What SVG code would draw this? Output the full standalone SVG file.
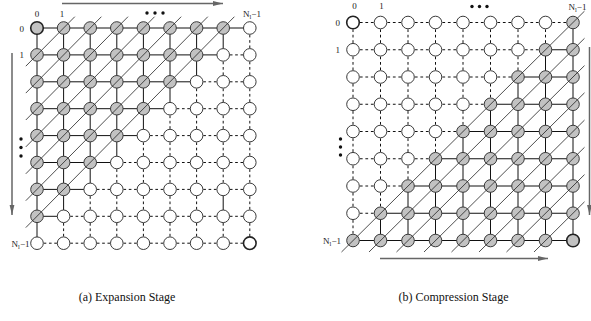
<svg xmlns="http://www.w3.org/2000/svg" width="591" height="321" viewBox="0 0 591 321">
<style>
.bg{fill:#fff}
circle{stroke:#3a3a3a;stroke-width:1}
.g{fill:#c2c2c2}
.w{fill:#fff}
.t{stroke:#222;stroke-width:1.6}
.s{fill:none;stroke:#111;stroke-width:1}
.dlh{fill:none;stroke:#111;stroke-width:1;stroke-dasharray:2.66 2.66;stroke-dashoffset:3.99}
.dlv{fill:none;stroke:#111;stroke-width:1;stroke-dasharray:2.69 2.69;stroke-dashoffset:4.035}
.drh{fill:none;stroke:#111;stroke-width:1;stroke-dasharray:2.75 2.75;stroke-dashoffset:4.125}
.drv{fill:none;stroke:#111;stroke-width:1;stroke-dasharray:2.725 2.725;stroke-dashoffset:4.0875}
.dg{stroke:#222;stroke-width:0.8;fill:none}
.ar{stroke:#666;stroke-width:1.5;fill:none;marker-end:url(#ah)}
.lb{font-family:"Liberation Serif","Times New Roman",serif;font-size:9px;fill:#222}
.cap{font-family:"Liberation Serif","Times New Roman",serif;font-size:12px;fill:#111;text-anchor:middle}
.dot{fill:#111}
</style>
<defs>
<marker id="ah" viewBox="0 0 10 6" refX="10" refY="3" markerWidth="10" markerHeight="6" markerUnits="userSpaceOnUse" orient="auto">
<path d="M0,0.6 L10,3 L0,5.4 Z" fill="#666"/>
</marker>
</defs>
<rect class="bg" x="0" y="0" width="591" height="321"/>

<g id="connectors">
<!-- left grid solid horizontals -->
<path class="s" d="M37 28H249.8"/>
<path class="s" d="M37 54.9H223.2"/>
<path class="s" d="M37 81.8H196.6"/>
<path class="s" d="M37 108.7H170"/>
<path class="s" d="M37 135.6H143.4"/>
<path class="s" d="M37 162.5H116.8"/>
<path class="s" d="M37 189.4H90.2"/>
<path class="s" d="M37 216.3H63.6"/>
<!-- left grid dashed horizontals -->
<path class="dlh" d="M223.2 54.9H249.8"/>
<path class="dlh" d="M196.6 81.8H249.8"/>
<path class="dlh" d="M170 108.7H249.8"/>
<path class="dlh" d="M143.4 135.6H249.8"/>
<path class="dlh" d="M116.8 162.5H249.8"/>
<path class="dlh" d="M90.2 189.4H249.8"/>
<path class="dlh" d="M63.6 216.3H249.8"/>
<path class="dlh" d="M37 243.2H249.8"/>
<!-- left grid solid verticals -->
<path class="s" d="M37 28V243.2"/>
<path class="s" d="M63.6 28V216.3"/>
<path class="s" d="M90.2 28V189.4"/>
<path class="s" d="M116.8 28V162.5"/>
<path class="s" d="M143.4 28V135.6"/>
<path class="s" d="M170 28V108.7"/>
<path class="s" d="M196.6 28V81.8"/>
<path class="s" d="M223.2 28V54.9"/>
<path class="s" d="M223.2 189.4V216.3"/>
<!-- left grid dashed verticals -->
<path class="dlv" d="M63.6 216.3V243.2"/>
<path class="dlv" d="M90.2 189.4V243.2"/>
<path class="dlv" d="M116.8 162.5V243.2"/>
<path class="dlv" d="M143.4 135.6V243.2"/>
<path class="dlv" d="M170 108.7V243.2"/>
<path class="dlv" d="M196.6 81.8V243.2"/>
<path class="dlv" d="M223.2 54.9V189.4"/>
<path class="dlv" d="M223.2 216.3V243.2"/>
<path class="dlv" d="M249.8 28V243.2"/>
<!-- right grid solid horizontals -->
<path class="s" d="M545.5 49.75H573"/>
<path class="s" d="M518 77H573"/>
<path class="s" d="M490.5 104.25H573"/>
<path class="s" d="M463 131.5H573"/>
<path class="s" d="M435.5 158.75H573"/>
<path class="s" d="M408 186H573"/>
<path class="s" d="M380.5 213.25H573"/>
<path class="s" d="M353 240.5H573"/>
<!-- right grid dashed horizontals -->
<path class="drh" d="M353 22.5H573"/>
<path class="drh" d="M353 49.75H545.5"/>
<path class="drh" d="M353 77H518"/>
<path class="drh" d="M353 104.25H490.5"/>
<path class="drh" d="M353 131.5H463"/>
<path class="drh" d="M353 158.75H435.5"/>
<path class="drh" d="M353 186H408"/>
<path class="drh" d="M353 213.25H380.5"/>
<!-- right grid solid verticals -->
<path class="s" d="M380.5 213.25V240.5"/>
<path class="s" d="M408 186V240.5"/>
<path class="s" d="M435.5 158.75V240.5"/>
<path class="s" d="M463 131.5V240.5"/>
<path class="s" d="M490.5 104.25V240.5"/>
<path class="s" d="M518 77V240.5"/>
<path class="s" d="M545.5 49.75V240.5"/>
<path class="s" d="M573 22.5V240.5"/>
<!-- right grid dashed verticals -->
<path class="drv" d="M353 22.5V240.5"/>
<path class="drv" d="M380.5 22.5V213.25"/>
<path class="drv" d="M408 22.5V186"/>
<path class="drv" d="M435.5 22.5V158.75"/>
<path class="drv" d="M463 22.5V131.5"/>
<path class="drv" d="M490.5 22.5V104.25"/>
<path class="drv" d="M518 22.5V77"/>
<path class="drv" d="M545.5 22.5V49.75"/>
<!-- direction arrows -->
<path class="ar" d="M62 3.5H223"/>
<path class="ar" d="M12 53V215"/>
<path class="ar" d="M380 258.5H548"/>
<path class="ar" d="M589.5 47V215"/>
</g>

<g id="expansion-nodes">
<g id="a0-0"><circle class="g t" cx="37" cy="28" r="6.3"/></g>
<g id="a0-1"><circle class="g" cx="63.6" cy="28" r="6.3"/></g>
<g id="a0-2"><circle class="g" cx="90.2" cy="28" r="6.3"/></g>
<g id="a0-3"><circle class="g" cx="116.8" cy="28" r="6.3"/></g>
<g id="a0-4"><circle class="g" cx="143.4" cy="28" r="6.3"/></g>
<g id="a0-5"><circle class="g" cx="170" cy="28" r="6.3"/></g>
<g id="a0-6"><circle class="g" cx="196.6" cy="28" r="6.3"/></g>
<g id="a0-7"><circle class="g" cx="223.2" cy="28" r="6.3"/></g>
<g id="a0-8"><circle class="w" cx="249.8" cy="28" r="6.3"/></g>

<g id="a1-0"><circle class="g" cx="37" cy="54.9" r="6.3"/></g>
<g id="a1-1"><circle class="g" cx="63.6" cy="54.9" r="6.3"/></g>
<g id="a1-2"><circle class="g" cx="90.2" cy="54.9" r="6.3"/></g>
<g id="a1-3"><circle class="g" cx="116.8" cy="54.9" r="6.3"/></g>
<g id="a1-4"><circle class="g" cx="143.4" cy="54.9" r="6.3"/></g>
<g id="a1-5"><circle class="g" cx="170" cy="54.9" r="6.3"/></g>
<g id="a1-6"><circle class="g" cx="196.6" cy="54.9" r="6.3"/></g>
<g id="a1-7"><circle class="w" cx="223.2" cy="54.9" r="6.3"/></g>
<g id="a1-8"><circle class="w" cx="249.8" cy="54.9" r="6.3"/></g>

<g id="a2-0"><circle class="g" cx="37" cy="81.8" r="6.3"/></g>
<g id="a2-1"><circle class="g" cx="63.6" cy="81.8" r="6.3"/></g>
<g id="a2-2"><circle class="g" cx="90.2" cy="81.8" r="6.3"/></g>
<g id="a2-3"><circle class="g" cx="116.8" cy="81.8" r="6.3"/></g>
<g id="a2-4"><circle class="g" cx="143.4" cy="81.8" r="6.3"/></g>
<g id="a2-5"><circle class="g" cx="170" cy="81.8" r="6.3"/></g>
<g id="a2-6"><circle class="w" cx="196.6" cy="81.8" r="6.3"/></g>
<g id="a2-7"><circle class="w" cx="223.2" cy="81.8" r="6.3"/></g>
<g id="a2-8"><circle class="w" cx="249.8" cy="81.8" r="6.3"/></g>

<g id="a3-0"><circle class="g" cx="37" cy="108.7" r="6.3"/></g>
<g id="a3-1"><circle class="g" cx="63.6" cy="108.7" r="6.3"/></g>
<g id="a3-2"><circle class="g" cx="90.2" cy="108.7" r="6.3"/></g>
<g id="a3-3"><circle class="g" cx="116.8" cy="108.7" r="6.3"/></g>
<g id="a3-4"><circle class="g" cx="143.4" cy="108.7" r="6.3"/></g>
<g id="a3-5"><circle class="w" cx="170" cy="108.7" r="6.3"/></g>
<g id="a3-6"><circle class="w" cx="196.6" cy="108.7" r="6.3"/></g>
<g id="a3-7"><circle class="w" cx="223.2" cy="108.7" r="6.3"/></g>
<g id="a3-8"><circle class="w" cx="249.8" cy="108.7" r="6.3"/></g>

<g id="a4-0"><circle class="g" cx="37" cy="135.6" r="6.3"/></g>
<g id="a4-1"><circle class="g" cx="63.6" cy="135.6" r="6.3"/></g>
<g id="a4-2"><circle class="g" cx="90.2" cy="135.6" r="6.3"/></g>
<g id="a4-3"><circle class="g" cx="116.8" cy="135.6" r="6.3"/></g>
<g id="a4-4"><circle class="w" cx="143.4" cy="135.6" r="6.3"/></g>
<g id="a4-5"><circle class="w" cx="170" cy="135.6" r="6.3"/></g>
<g id="a4-6"><circle class="w" cx="196.6" cy="135.6" r="6.3"/></g>
<g id="a4-7"><circle class="w" cx="223.2" cy="135.6" r="6.3"/></g>
<g id="a4-8"><circle class="w" cx="249.8" cy="135.6" r="6.3"/></g>

<g id="a5-0"><circle class="g" cx="37" cy="162.5" r="6.3"/></g>
<g id="a5-1"><circle class="g" cx="63.6" cy="162.5" r="6.3"/></g>
<g id="a5-2"><circle class="g" cx="90.2" cy="162.5" r="6.3"/></g>
<g id="a5-3"><circle class="w" cx="116.8" cy="162.5" r="6.3"/></g>
<g id="a5-4"><circle class="w" cx="143.4" cy="162.5" r="6.3"/></g>
<g id="a5-5"><circle class="w" cx="170" cy="162.5" r="6.3"/></g>
<g id="a5-6"><circle class="w" cx="196.6" cy="162.5" r="6.3"/></g>
<g id="a5-7"><circle class="w" cx="223.2" cy="162.5" r="6.3"/></g>
<g id="a5-8"><circle class="w" cx="249.8" cy="162.5" r="6.3"/></g>

<g id="a6-0"><circle class="g" cx="37" cy="189.4" r="6.3"/></g>
<g id="a6-1"><circle class="g" cx="63.6" cy="189.4" r="6.3"/></g>
<g id="a6-2"><circle class="w" cx="90.2" cy="189.4" r="6.3"/></g>
<g id="a6-3"><circle class="w" cx="116.8" cy="189.4" r="6.3"/></g>
<g id="a6-4"><circle class="w" cx="143.4" cy="189.4" r="6.3"/></g>
<g id="a6-5"><circle class="w" cx="170" cy="189.4" r="6.3"/></g>
<g id="a6-6"><circle class="w" cx="196.6" cy="189.4" r="6.3"/></g>
<g id="a6-7"><circle class="w" cx="223.2" cy="189.4" r="6.3"/></g>
<g id="a6-8"><circle class="w" cx="249.8" cy="189.4" r="6.3"/></g>

<g id="a7-0"><circle class="g" cx="37" cy="216.3" r="6.3"/></g>
<g id="a7-1"><circle class="w" cx="63.6" cy="216.3" r="6.3"/></g>
<g id="a7-2"><circle class="w" cx="90.2" cy="216.3" r="6.3"/></g>
<g id="a7-3"><circle class="w" cx="116.8" cy="216.3" r="6.3"/></g>
<g id="a7-4"><circle class="w" cx="143.4" cy="216.3" r="6.3"/></g>
<g id="a7-5"><circle class="w" cx="170" cy="216.3" r="6.3"/></g>
<g id="a7-6"><circle class="w" cx="196.6" cy="216.3" r="6.3"/></g>
<g id="a7-7"><circle class="w" cx="223.2" cy="216.3" r="6.3"/></g>
<g id="a7-8"><circle class="w" cx="249.8" cy="216.3" r="6.3"/></g>

<g id="a8-0"><circle class="w" cx="37" cy="243.2" r="6.3"/></g>
<g id="a8-1"><circle class="w" cx="63.6" cy="243.2" r="6.3"/></g>
<g id="a8-2"><circle class="w" cx="90.2" cy="243.2" r="6.3"/></g>
<g id="a8-3"><circle class="w" cx="116.8" cy="243.2" r="6.3"/></g>
<g id="a8-4"><circle class="w" cx="143.4" cy="243.2" r="6.3"/></g>
<g id="a8-5"><circle class="w" cx="170" cy="243.2" r="6.3"/></g>
<g id="a8-6"><circle class="w" cx="196.6" cy="243.2" r="6.3"/></g>
<g id="a8-7"><circle class="w" cx="223.2" cy="243.2" r="6.3"/></g>
<g id="a8-8"><circle class="w t" cx="249.8" cy="243.2" r="6.3"/></g>
</g>

<g id="compression-nodes">
<g id="b0-0"><circle class="w t" cx="353" cy="22.5" r="6.3"/></g>
<g id="b0-1"><circle class="w" cx="380.5" cy="22.5" r="6.3"/></g>
<g id="b0-2"><circle class="w" cx="408" cy="22.5" r="6.3"/></g>
<g id="b0-3"><circle class="w" cx="435.5" cy="22.5" r="6.3"/></g>
<g id="b0-4"><circle class="w" cx="463" cy="22.5" r="6.3"/></g>
<g id="b0-5"><circle class="w" cx="490.5" cy="22.5" r="6.3"/></g>
<g id="b0-6"><circle class="w" cx="518" cy="22.5" r="6.3"/></g>
<g id="b0-7"><circle class="w" cx="545.5" cy="22.5" r="6.3"/></g>
<g id="b0-8"><circle class="g" cx="573" cy="22.5" r="6.3"/></g>

<g id="b1-0"><circle class="w" cx="353" cy="49.75" r="6.3"/></g>
<g id="b1-1"><circle class="w" cx="380.5" cy="49.75" r="6.3"/></g>
<g id="b1-2"><circle class="w" cx="408" cy="49.75" r="6.3"/></g>
<g id="b1-3"><circle class="w" cx="435.5" cy="49.75" r="6.3"/></g>
<g id="b1-4"><circle class="w" cx="463" cy="49.75" r="6.3"/></g>
<g id="b1-5"><circle class="w" cx="490.5" cy="49.75" r="6.3"/></g>
<g id="b1-6"><circle class="w" cx="518" cy="49.75" r="6.3"/></g>
<g id="b1-7"><circle class="g" cx="545.5" cy="49.75" r="6.3"/></g>
<g id="b1-8"><circle class="g" cx="573" cy="49.75" r="6.3"/></g>

<g id="b2-0"><circle class="w" cx="353" cy="77" r="6.3"/></g>
<g id="b2-1"><circle class="w" cx="380.5" cy="77" r="6.3"/></g>
<g id="b2-2"><circle class="w" cx="408" cy="77" r="6.3"/></g>
<g id="b2-3"><circle class="w" cx="435.5" cy="77" r="6.3"/></g>
<g id="b2-4"><circle class="w" cx="463" cy="77" r="6.3"/></g>
<g id="b2-5"><circle class="w" cx="490.5" cy="77" r="6.3"/></g>
<g id="b2-6"><circle class="g" cx="518" cy="77" r="6.3"/></g>
<g id="b2-7"><circle class="g" cx="545.5" cy="77" r="6.3"/></g>
<g id="b2-8"><circle class="g" cx="573" cy="77" r="6.3"/></g>

<g id="b3-0"><circle class="w" cx="353" cy="104.25" r="6.3"/></g>
<g id="b3-1"><circle class="w" cx="380.5" cy="104.25" r="6.3"/></g>
<g id="b3-2"><circle class="w" cx="408" cy="104.25" r="6.3"/></g>
<g id="b3-3"><circle class="w" cx="435.5" cy="104.25" r="6.3"/></g>
<g id="b3-4"><circle class="w" cx="463" cy="104.25" r="6.3"/></g>
<g id="b3-5"><circle class="g" cx="490.5" cy="104.25" r="6.3"/></g>
<g id="b3-6"><circle class="g" cx="518" cy="104.25" r="6.3"/></g>
<g id="b3-7"><circle class="g" cx="545.5" cy="104.25" r="6.3"/></g>
<g id="b3-8"><circle class="g" cx="573" cy="104.25" r="6.3"/></g>

<g id="b4-0"><circle class="w" cx="353" cy="131.5" r="6.3"/></g>
<g id="b4-1"><circle class="w" cx="380.5" cy="131.5" r="6.3"/></g>
<g id="b4-2"><circle class="w" cx="408" cy="131.5" r="6.3"/></g>
<g id="b4-3"><circle class="w" cx="435.5" cy="131.5" r="6.3"/></g>
<g id="b4-4"><circle class="g" cx="463" cy="131.5" r="6.3"/></g>
<g id="b4-5"><circle class="g" cx="490.5" cy="131.5" r="6.3"/></g>
<g id="b4-6"><circle class="g" cx="518" cy="131.5" r="6.3"/></g>
<g id="b4-7"><circle class="g" cx="545.5" cy="131.5" r="6.3"/></g>
<g id="b4-8"><circle class="g" cx="573" cy="131.5" r="6.3"/></g>

<g id="b5-0"><circle class="w" cx="353" cy="158.75" r="6.3"/></g>
<g id="b5-1"><circle class="w" cx="380.5" cy="158.75" r="6.3"/></g>
<g id="b5-2"><circle class="w" cx="408" cy="158.75" r="6.3"/></g>
<g id="b5-3"><circle class="g" cx="435.5" cy="158.75" r="6.3"/></g>
<g id="b5-4"><circle class="g" cx="463" cy="158.75" r="6.3"/></g>
<g id="b5-5"><circle class="g" cx="490.5" cy="158.75" r="6.3"/></g>
<g id="b5-6"><circle class="g" cx="518" cy="158.75" r="6.3"/></g>
<g id="b5-7"><circle class="g" cx="545.5" cy="158.75" r="6.3"/></g>
<g id="b5-8"><circle class="g" cx="573" cy="158.75" r="6.3"/></g>

<g id="b6-0"><circle class="w" cx="353" cy="186" r="6.3"/></g>
<g id="b6-1"><circle class="w" cx="380.5" cy="186" r="6.3"/></g>
<g id="b6-2"><circle class="g" cx="408" cy="186" r="6.3"/></g>
<g id="b6-3"><circle class="g" cx="435.5" cy="186" r="6.3"/></g>
<g id="b6-4"><circle class="g" cx="463" cy="186" r="6.3"/></g>
<g id="b6-5"><circle class="g" cx="490.5" cy="186" r="6.3"/></g>
<g id="b6-6"><circle class="g" cx="518" cy="186" r="6.3"/></g>
<g id="b6-7"><circle class="g" cx="545.5" cy="186" r="6.3"/></g>
<g id="b6-8"><circle class="g" cx="573" cy="186" r="6.3"/></g>

<g id="b7-0"><circle class="w" cx="353" cy="213.25" r="6.3"/></g>
<g id="b7-1"><circle class="g" cx="380.5" cy="213.25" r="6.3"/></g>
<g id="b7-2"><circle class="g" cx="408" cy="213.25" r="6.3"/></g>
<g id="b7-3"><circle class="g" cx="435.5" cy="213.25" r="6.3"/></g>
<g id="b7-4"><circle class="g" cx="463" cy="213.25" r="6.3"/></g>
<g id="b7-5"><circle class="g" cx="490.5" cy="213.25" r="6.3"/></g>
<g id="b7-6"><circle class="g" cx="518" cy="213.25" r="6.3"/></g>
<g id="b7-7"><circle class="g" cx="545.5" cy="213.25" r="6.3"/></g>
<g id="b7-8"><circle class="g" cx="573" cy="213.25" r="6.3"/></g>

<g id="b8-0"><circle class="g" cx="353" cy="240.5" r="6.3"/></g>
<g id="b8-1"><circle class="g" cx="380.5" cy="240.5" r="6.3"/></g>
<g id="b8-2"><circle class="g" cx="408" cy="240.5" r="6.3"/></g>
<g id="b8-3"><circle class="g" cx="435.5" cy="240.5" r="6.3"/></g>
<g id="b8-4"><circle class="g" cx="463" cy="240.5" r="6.3"/></g>
<g id="b8-5"><circle class="g" cx="490.5" cy="240.5" r="6.3"/></g>
<g id="b8-6"><circle class="g" cx="518" cy="240.5" r="6.3"/></g>
<g id="b8-7"><circle class="g" cx="545.5" cy="240.5" r="6.3"/></g>
<g id="b8-8"><circle class="g t" cx="573" cy="240.5" r="6.3"/></g>
</g>

<g id="diagonals">
<path class="dg" d="M25.8 66.2L74.8 16.7"/>
<path class="dg" d="M25.8 93.1L101.4 16.7"/>
<path class="dg" d="M25.8 120L128 16.7"/>
<path class="dg" d="M25.8 146.9L154.6 16.7"/>
<path class="dg" d="M25.8 173.8L181.2 16.7"/>
<path class="dg" d="M25.8 200.7L207.8 16.7"/>
<path class="dg" d="M25.8 227.6L234.4 16.7"/>
<path class="dg" d="M341.5 252L584.5 11.1"/>
<path class="dg" d="M369 252L584.5 38.3"/>
<path class="dg" d="M396.5 252L584.5 65.6"/>
<path class="dg" d="M424 252L584.5 92.8"/>
<path class="dg" d="M451.5 252L584.5 120.1"/>
<path class="dg" d="M479 252L584.5 147.3"/>
<path class="dg" d="M506.5 252L584.5 174.6"/>
<path class="dg" d="M534 252L584.5 201.8"/>
</g>

<g id="labels">
<text class="lb" x="37" y="16.5" text-anchor="middle">0</text>
<text class="lb" x="62" y="16.5" text-anchor="middle">1</text>
<text class="lb" x="252" y="16.5" text-anchor="middle">N<tspan font-size="6.5" dy="2">l</tspan><tspan dy="-2">−1</tspan></text>
<text class="lb" x="24" y="31.5" text-anchor="end">0</text>
<text class="lb" x="24" y="58" text-anchor="end">1</text>
<text class="lb" x="29.5" y="246.5" text-anchor="end">N<tspan font-size="6.5" dy="2">l</tspan><tspan dy="-2">−1</tspan></text>
<text class="lb" x="354.5" y="9" text-anchor="middle">0</text>
<text class="lb" x="381.5" y="9" text-anchor="middle">1</text>
<text class="lb" x="577.5" y="9.5" text-anchor="middle">N<tspan font-size="6.5" dy="2">l</tspan><tspan dy="-2">−1</tspan></text>
<text class="lb" x="340" y="26" text-anchor="end">0</text>
<text class="lb" x="340" y="53" text-anchor="end">1</text>
<text class="lb" x="341" y="244" text-anchor="end">N<tspan font-size="6.5" dy="2">l</tspan><tspan dy="-2">−1</tspan></text>
<circle class="dot" cx="147" cy="13" r="1.7" style="stroke:none"/>
<circle class="dot" cx="155" cy="13" r="1.7" style="stroke:none"/>
<circle class="dot" cx="163" cy="13" r="1.7" style="stroke:none"/>
<circle class="dot" cx="21" cy="139" r="1.7" style="stroke:none"/>
<circle class="dot" cx="21" cy="147.5" r="1.7" style="stroke:none"/>
<circle class="dot" cx="21" cy="156" r="1.7" style="stroke:none"/>
<circle class="dot" cx="472" cy="6.5" r="1.7" style="stroke:none"/>
<circle class="dot" cx="479.5" cy="6.5" r="1.7" style="stroke:none"/>
<circle class="dot" cx="487" cy="6.5" r="1.7" style="stroke:none"/>
<circle class="dot" cx="340.5" cy="139" r="1.7" style="stroke:none"/>
<circle class="dot" cx="340.5" cy="147" r="1.7" style="stroke:none"/>
<circle class="dot" cx="340.5" cy="155" r="1.7" style="stroke:none"/>
<text class="cap" x="127" y="301">(a) Expansion Stage</text>
<text class="cap" x="453.5" y="301">(b) Compression Stage</text>
</g>
</svg>
